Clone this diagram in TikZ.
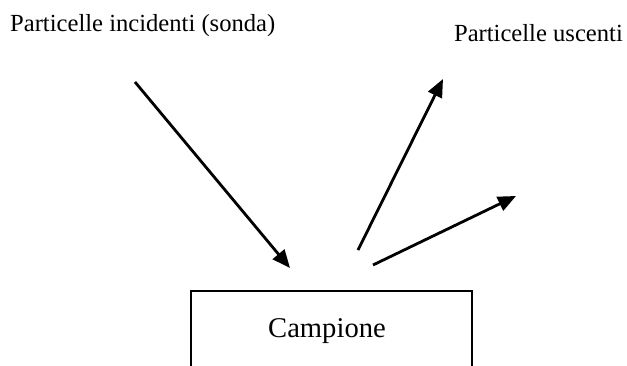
\documentclass[tikz,border=0pt]{standalone}
\usepackage{fontspec}
\setmainfont{Liberation Serif}
\usetikzlibrary{arrows.meta}
\begin{document}
\begin{tikzpicture}[x=1pt,y=-1pt,
  ray/.style={-{Triangle[length=18pt,width=15pt]},line width=2.8pt},
  label/.style={inner sep=0pt,font=\fontsize{24.6}{28}\selectfont}]
  \useasboundingbox (0,0) rectangle (627,365);

  % campione
  \draw[line width=2.6pt] (191,367) -- (191,291) -- (472,291) -- (472,367);
  \node[inner sep=0pt,font=\fontsize{28.6}{32}\selectfont] (campione) at (327,331) {Campione};

  \node[label,anchor=west] (incidenti) at (10,26) {Particelle incidenti (sonda)};
  \node[label,anchor=east] (uscenti) at (623,33) {Particelle uscenti};

  \coordinate (in0) at (135,82);
  \coordinate (in1) at (290,268);
  \coordinate (out1a) at (358,250);
  \coordinate (out1b) at (443,79);
  \coordinate (out2a) at (373,265);
  \coordinate (out2b) at (516,196);

  \draw[ray] (in0) -- (in1);
  \draw[ray] (out1a) -- (out1b);
  \draw[ray] (out2a) -- (out2b);
\end{tikzpicture}
\end{document}
